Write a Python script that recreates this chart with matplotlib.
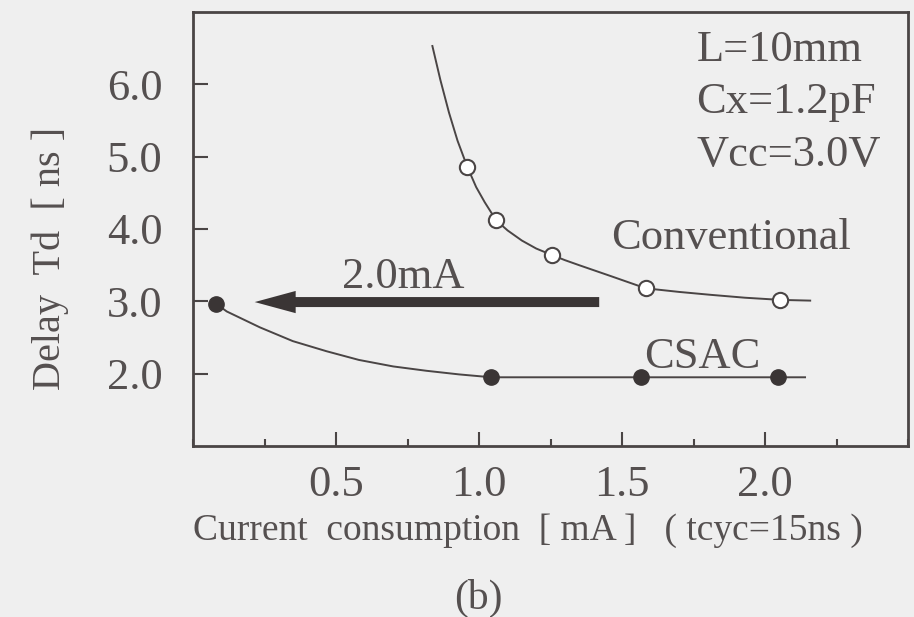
import matplotlib
matplotlib.use('Agg')
import matplotlib.pyplot as plt
from matplotlib.patches import FancyArrowPatch
from matplotlib.ticker import MultipleLocator

# Значення
conv_x = [0.959, 1.060, 1.255, 1.583, 2.054]
conv_y = [4.86, 4.12, 3.64, 3.18, 3.02]
csac_x = [0.08, 1.043, 1.566, 2.047]
csac_y = [2.97, 1.95, 1.95, 1.95]

# Хід кривих (зчитано по точках з рисунка)
conv_curve_x = [0.837, 0.865, 0.895, 0.925, 0.959, 0.99, 1.02, 1.06, 1.10, 1.15, 1.20, 1.255,
                1.30, 1.35, 1.46, 1.583, 1.70, 1.81, 1.93, 2.054, 2.158]
conv_curve_y = [6.53, 6.06, 5.61, 5.22, 4.86, 4.58, 4.37, 4.12, 3.98, 3.84, 3.73, 3.64,
                3.57, 3.50, 3.35, 3.18, 3.13, 3.09, 3.05, 3.02, 3.01]
csac_curve_x = [0.08, 0.118, 0.234, 0.349, 0.467, 0.58, 0.70, 0.816, 0.93, 1.043, 1.566, 2.047, 2.14]
csac_curve_y = [2.97, 2.86, 2.64, 2.45, 2.31, 2.19, 2.10, 2.04, 1.99, 1.95, 1.95, 1.95, 1.95]

x_ticks = [0.5, 1.0, 1.5, 2.0]
x_labels = ['0.5', '1.0', '1.5', '2.0']
y_ticks = [2, 3, 4, 5, 6]
y_labels = ['2.0', '3.0', '4.0', '5.0', '6.0']
notes = ['L=10mm', 'Cx=1.2pF', 'Vcc=3.0V']

bg = '#efefef'
ink = '#4a4545'
txt = '#555050'

plt.rcParams['font.family'] = ['Liberation Serif', 'DejaVu Serif']

fig = plt.figure(figsize=(9.14, 6.17), dpi=100, facecolor=bg)
ax = fig.add_axes([193 / 914, 1 - 446 / 617, 715 / 914, 434 / 617])
ax.set_facecolor(bg)

ax.plot(conv_curve_x, conv_curve_y, color=ink, lw=1.4)
ax.plot(csac_curve_x, csac_curve_y, color=ink, lw=1.4)
ax.plot(conv_x, conv_y, 'o', ms=11, mfc='white', mec=ink, mew=1.5)
ax.plot(csac_x, csac_y, 'o', ms=11, mfc='#3a3535', mec='#3a3535')

# стрілка 2.0mA
arr = FancyArrowPatch((1.43, 2.99), (0.206, 2.99),
                      arrowstyle='simple,head_length=2.95,head_width=1.6,tail_width=0.72',
                      mutation_scale=10, color='#3a3535', lw=0)
ax.add_patch(arr)

ax.text(0.52, 3.18, '2.0mA', fontsize=32, color=txt, va='baseline', ha='left')
ax.text(1.461, 3.72, 'Conventional', fontsize=32, color=txt, va='baseline', ha='left')
ax.text(1.576, 2.08, 'CSAC', fontsize=32, color=txt, va='baseline', ha='left')
for s, yy in zip(notes, [6.32, 5.61, 4.875]):
    ax.text(1.76, yy, s, fontsize=32, color=txt, va='baseline', ha='left')

ax.set_xlim(0, 2.5)
ax.set_ylim(1.0, 7.0)
ax.set_xticks(x_ticks)
ax.set_xticklabels(x_labels)
ax.xaxis.set_minor_locator(MultipleLocator(0.25))
ax.set_yticks(y_ticks)
ax.set_yticklabels(y_labels)
ax.tick_params(axis='x', which='major', direction='in', length=10, width=1.5,
               color=ink, labelsize=32, labelcolor=txt, pad=14)
ax.tick_params(axis='x', which='minor', direction='in', length=5, width=1.5, color=ink)
ax.tick_params(axis='y', direction='in', length=11, width=1.5,
               color=ink, labelsize=32, labelcolor=txt, pad=22)
for sp in ax.spines.values():
    sp.set_color(ink)
    sp.set_linewidth(2)

fig.text(50 / 914, 1 - 258 / 617, 'Delay  Td  [ ns ]', rotation=90, fontsize=29,
         color=txt, ha='center', va='center')
fig.text(528 / 914, 1 - 540 / 617, 'Current  consumption  [ mA ]   ( tcyc=15ns )',
         fontsize=27, color=txt, ha='center', va='baseline')
fig.text(478 / 914, 1 - 598 / 617, '(b)', fontsize=30, color=txt, ha='center', va='center')

fig.savefig('out.png', dpi=100, facecolor=bg)
